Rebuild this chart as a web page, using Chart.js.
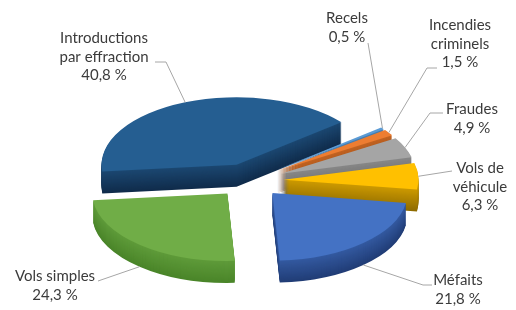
<!DOCTYPE html>
<html>
<head>
<meta charset="utf-8">
<script src="https://cdn.jsdelivr.net/npm/chart.js@4.4.1/dist/chart.umd.min.js"></script>
<style>
    html, body { margin: 0; background: #ffffff; }
    canvas { display: block; }
</style>
</head>
<body>
<canvas id="crimeChart" width="516" height="310"></canvas>
<script>
// Data, clockwise from the slice that sits just after "Introductions par effraction"
const categories = ['Recels', 'Incendies criminels', 'Fraudes', 'Vols de véhicule', 'Méfaits', 'Vols simples', 'Introductions par effraction'];
const shares = [0.5, 1.5, 4.9, 6.3, 21.8, 24.3, 40.8];
const labelText = [['Recels'], ['Incendies', 'criminels'], ['Fraudes'], ['Vols de', 'véhicule'], ['Méfaits'], ['Vols simples'], ['Introductions', 'par effraction']];

const topColors = ['#5b9bd5', '#ed7d31', '#a5a5a5', '#ffc000', '#4472c4', '#70ad47', '#255e91'];
const sideColors = ['#2c5d88', '#8f4612', '#646464', '#8f6c00', '#213d76', '#4a8529', '#102c4b'];

// label placement: centre x, first line y, leader start and elbow
const labelLayout = [
    { x: 347, y: 18,  from: [368, 43],  elbow: null },
    { x: 460, y: 25,  from: [437, 68],  elbow: [427, 68] },
    { x: 472, y: 109, from: [443, 113], elbow: [430, 113] },
    { x: 480, y: 168, from: [452, 171], elbow: null },
    { x: 458, y: 280, from: [432, 285], elbow: [423, 285] },
    { x: 55,  y: 276, from: [98, 281],  elbow: null },
    { x: 104, y: 38,  from: [155, 62],  elbow: [166, 62] }
];

const TILT = 0.5;     // vertical squash of the pie
const DEPTH = 22;     // thickness in screen px
const EXPLODE = 34;   // slice pull-out
const LINE_H = 18.8;

function hexToRgb(h) {
    const n = parseInt(h.slice(1), 16);
    return [(n >> 16) & 255, (n >> 8) & 255, n & 255];
}
function mix(a, b, t) {
    const ca = hexToRgb(a), cb = hexToRgb(b);
    return '#' + ca.map((v, i) => Math.round(v + (cb[i] - v) * t).toString(16).padStart(2, '0')).join('');
}
function pct(v) {
    return v.toFixed(1).replace('.', ',') + ' %';
}

const pie3d = {
    id: 'pie3d',
    beforeDatasetsDraw(chart) {
        const ctx = chart.ctx;
        const arcs = chart.getDatasetMeta(0).data;

        const paint = (arc, color, depth) => {
            const mid = (arc.startAngle + arc.endAngle) / 2;
            ctx.save();
            ctx.translate(arc.x, arc.y);
            ctx.scale(1, TILT);
            ctx.translate(-arc.x, -arc.y);
            ctx.translate(Math.cos(mid) * EXPLODE, Math.sin(mid) * EXPLODE + depth / TILT);
            const opts = arc.options;
            arc.options = Object.create(opts, { backgroundColor: { value: color } });
            arc.draw(ctx);
            arc.options = opts;
            ctx.restore();
        };

        // side walls, bottom layer first
        for (let d = DEPTH; d >= 1; d--) {
            arcs.forEach((arc, i) => {
                const light = mix(topColors[i], sideColors[i], 0.45);
                paint(arc, mix(light, sideColors[i], d / DEPTH), d);
            });
        }
        // top faces
        arcs.forEach((arc, i) => paint(arc, topColors[i], 0));
        return false;
    },
    afterDraw(chart) {
        const ctx = chart.ctx;
        const arcs = chart.getDatasetMeta(0).data;
        ctx.save();
        ctx.font = '15px Lato';
        ctx.textAlign = 'center';
        ctx.textBaseline = 'middle';
        arcs.forEach((arc, i) => {
            const mid = (arc.startAngle + arc.endAngle) / 2;
            const r = EXPLODE + arc.outerRadius;
            const ex = arc.x + Math.cos(mid) * r;
            let ey = arc.y + Math.sin(mid) * r * TILT;
            if (Math.sin(mid) > 0.3) ey += DEPTH;
            const L = labelLayout[i];

            ctx.strokeStyle = '#a6a6a6';
            ctx.lineWidth = 1;
            ctx.beginPath();
            ctx.moveTo(L.from[0], L.from[1]);
            if (L.elbow) ctx.lineTo(L.elbow[0], L.elbow[1]);
            ctx.lineTo(ex, ey);
            ctx.stroke();

            ctx.fillStyle = '#3b3b3b';
            labelText[i].concat(pct(shares[i])).forEach((t, k) => {
                ctx.fillText(t, L.x, L.y + k * LINE_H);
            });
        });
        ctx.restore();
    }
};

new Chart(document.getElementById('crimeChart'), {
    type: 'pie',
    data: {
        labels: categories,
        datasets: [{
            data: shares,
            backgroundColor: topColors,
            borderWidth: 0,
            offset: 0,
            hoverOffset: 0,
            radius: 135
        }]
    },
    options: {
        responsive: false,
        animation: false,
        events: [],
        rotation: 51,
        layout: { padding: { top: 51, right: 17, bottom: 0, left: 0 } },
        plugins: {
            legend: { display: false },
            tooltip: { enabled: false }
        }
    },
    plugins: [pie3d]
});
</script>
</body>
</html>
